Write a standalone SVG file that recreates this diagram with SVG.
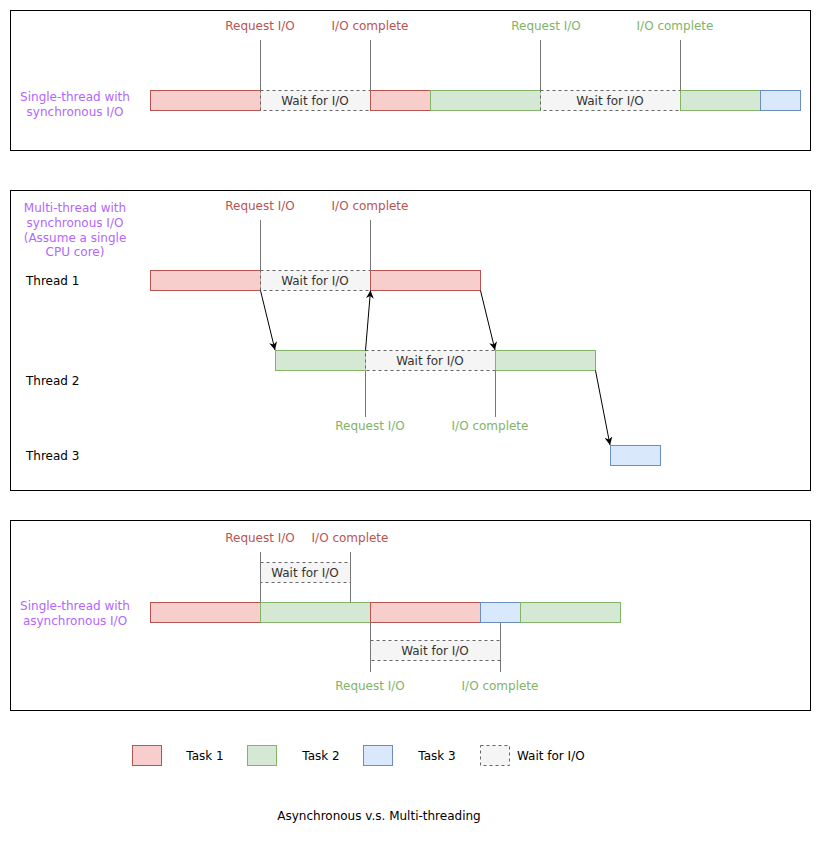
<svg xmlns="http://www.w3.org/2000/svg" width="821" height="841" viewBox="0 0 821 841">
<style>
text{font-family:"Comic Sans MS","DejaVu Sans",sans-serif;font-size:12px;dominant-baseline:central}
.c{text-anchor:middle}
.panel{fill:#fff;stroke:#000;stroke-width:1}
.t1{fill:#f8cecc;stroke:#b85450}
.t2{fill:#d5e8d4;stroke:#82b366}
.t3{fill:#dae8fc;stroke:#6c8ebf}
.w{fill:#f5f5f5;stroke:#666;stroke-dasharray:3 3}
.wt{fill:#333}
.red{fill:#b85450}
.grn{fill:#82b366}
.pur{fill:#b266ff}
.blk{fill:#000}
.vl{stroke:#777;stroke-width:1;fill:none}
.ar{stroke:#000;stroke-width:1;fill:none;marker-end:url(#ah)}
</style>
<defs>
<marker id="ah" viewBox="0 0 10 10" refX="10" refY="5" markerWidth="8" markerHeight="8" markerUnits="userSpaceOnUse" orient="auto">
<path d="M0,0 L10,5 L0,10 L3,5 z" fill="#000"/>
</marker>
</defs>
<rect width="821" height="841" fill="#fff"/>

<!-- Panel 1 -->
<g id="panel1">
<rect class="panel" x="10.5" y="10.5" width="800" height="140"/>
<g id="p1-label"><text class="c pur" x="75" y="97">Single-thread with</text><text class="c pur" x="75" y="112">synchronous I/O</text></g>
<g id="p1-r1"><rect class="t1" x="150.5" y="90.5" width="110" height="20"/></g>
<g id="p1-w1"><rect class="w" x="260.5" y="90.5" width="110" height="20"/><text class="c wt" x="315" y="100.5">Wait for I/O</text></g>
<g id="p1-r2"><rect class="t1" x="370.5" y="90.5" width="60" height="20"/></g>
<g id="p1-g1"><rect class="t2" x="430.5" y="90.5" width="110" height="20"/></g>
<g id="p1-w2"><rect class="w" x="540.5" y="90.5" width="140" height="20"/><text class="c wt" x="610" y="100.5">Wait for I/O</text></g>
<g id="p1-g2"><rect class="t2" x="680.5" y="90.5" width="80" height="20"/></g>
<g id="p1-b1"><rect class="t3" x="760.5" y="90.5" width="40" height="20"/></g>
<g id="p1-l1"><text class="c red" x="260" y="26">Request I/O</text></g>
<g id="p1-l2"><text class="c red" x="370" y="26">I/O complete</text></g>
<g id="p1-l3"><text class="c grn" x="546" y="26">Request I/O</text></g>
<g id="p1-l4"><text class="c grn" x="675" y="26">I/O complete</text></g>
</g>

<!-- Panel 2 -->
<g id="panel2">
<rect class="panel" x="10.5" y="190.5" width="800" height="300"/>
<g id="p2-label"><text class="c pur" x="75" y="208">Multi-thread with</text><text class="c pur" x="75" y="223">synchronous I/O</text><text class="c pur" x="75" y="238">(Assume a single</text><text class="c pur" x="75" y="252">CPU core)</text></g>
<g id="p2-th1"><text class="blk" x="26" y="281">Thread 1</text></g>
<g id="p2-th2"><text class="blk" x="26" y="381">Thread 2</text></g>
<g id="p2-th3"><text class="blk" x="26" y="456">Thread 3</text></g>
<g id="p2-r1"><rect class="t1" x="150.5" y="270.5" width="110" height="20"/></g>
<g id="p2-w1"><rect class="w" x="260.5" y="270.5" width="110" height="20"/><text class="c wt" x="315" y="280.5">Wait for I/O</text></g>
<g id="p2-r2"><rect class="t1" x="370.5" y="270.5" width="110" height="20"/></g>
<g id="p2-g1"><rect class="t2" x="275.5" y="350.5" width="90" height="20"/></g>
<g id="p2-w2"><rect class="w" x="365.5" y="350.5" width="130" height="20"/><text class="c wt" x="430" y="360.5">Wait for I/O</text></g>
<g id="p2-g2"><rect class="t2" x="495.5" y="350.5" width="100" height="20"/></g>
<g id="p2-b1"><rect class="t3" x="610.5" y="445.5" width="50" height="20"/></g>
<g id="p2-l1"><text class="c red" x="260" y="206">Request I/O</text></g>
<g id="p2-l2"><text class="c red" x="370" y="206">I/O complete</text></g>
<g id="p2-l3"><text class="c grn" x="370" y="426">Request I/O</text></g>
<g id="p2-l4"><text class="c grn" x="490" y="426">I/O complete</text></g>
</g>

<!-- Panel 3 -->
<g id="panel3">
<rect class="panel" x="10.5" y="520.5" width="800" height="190"/>
<g id="p3-label"><text class="c pur" x="75" y="606">Single-thread with</text><text class="c pur" x="75" y="621">asynchronous I/O</text></g>
<g id="p3-r1"><rect class="t1" x="150.5" y="602.5" width="110" height="20"/></g>
<g id="p3-g1"><rect class="t2" x="260.5" y="602.5" width="110" height="20"/></g>
<g id="p3-r2"><rect class="t1" x="370.5" y="602.5" width="110" height="20"/></g>
<g id="p3-b1"><rect class="t3" x="480.5" y="602.5" width="40" height="20"/></g>
<g id="p3-g2"><rect class="t2" x="520.5" y="602.5" width="100" height="20"/></g>
<g id="p3-w1"><rect class="w" x="260.5" y="562.5" width="90" height="20"/><text class="c wt" x="305" y="572.5">Wait for I/O</text></g>
<g id="p3-w2"><rect class="w" x="370.5" y="640.5" width="130" height="20"/><text class="c wt" x="435" y="650.5">Wait for I/O</text></g>
<g id="p3-l1"><text class="c red" x="260" y="538">Request I/O</text></g>
<g id="p3-l2"><text class="c red" x="350" y="538">I/O complete</text></g>
<g id="p3-l3"><text class="c grn" x="370" y="686">Request I/O</text></g>
<g id="p3-l4"><text class="c grn" x="500" y="686">I/O complete</text></g>
</g>

<!-- Legend -->
<g id="legend">
<g id="lg-t1"><rect class="t1" x="132.5" y="745.5" width="29" height="20"/><text class="c blk" x="205" y="756">Task 1</text></g>
<g id="lg-t2"><rect class="t2" x="247.5" y="745.5" width="29" height="20"/><text class="c blk" x="321" y="756">Task 2</text></g>
<g id="lg-t3"><rect class="t3" x="363.5" y="745.5" width="29" height="20"/><text class="c blk" x="437" y="756">Task 3</text></g>
<g id="lg-w"><rect class="w" x="480.5" y="745.5" width="29" height="20"/><text class="blk" x="517" y="756">Wait for I/O</text></g>
</g>
<g id="title"><text class="c blk" x="379" y="816">Asynchronous v.s. Multi-threading</text></g>

<!-- Connectors -->
<g id="connectors">
<path class="vl" d="M260.5,40 V90.5 M370.5,40 V90.5 M540.5,40 V90.5 M680.5,40 V90.5"/>
<path class="vl" d="M260.5,220 V270.5 M370.5,220 V270.5"/>
<path class="vl" d="M365.5,370.5 V417 M495.5,370.5 V417"/>
<path class="vl" d="M260.5,552 V602.5 M350.5,552 V602.5"/>
<path class="vl" d="M370.5,622.5 V672 M500.5,622.5 V672"/>
<line class="ar" x1="260.5" y1="290.5" x2="275" y2="350"/>
<line class="ar" x1="365.5" y1="350.5" x2="370.5" y2="290.5"/>
<line class="ar" x1="480.5" y1="290.5" x2="495" y2="350"/>
<line class="ar" x1="595.5" y1="370.5" x2="610" y2="445"/>
</g>
</svg>
